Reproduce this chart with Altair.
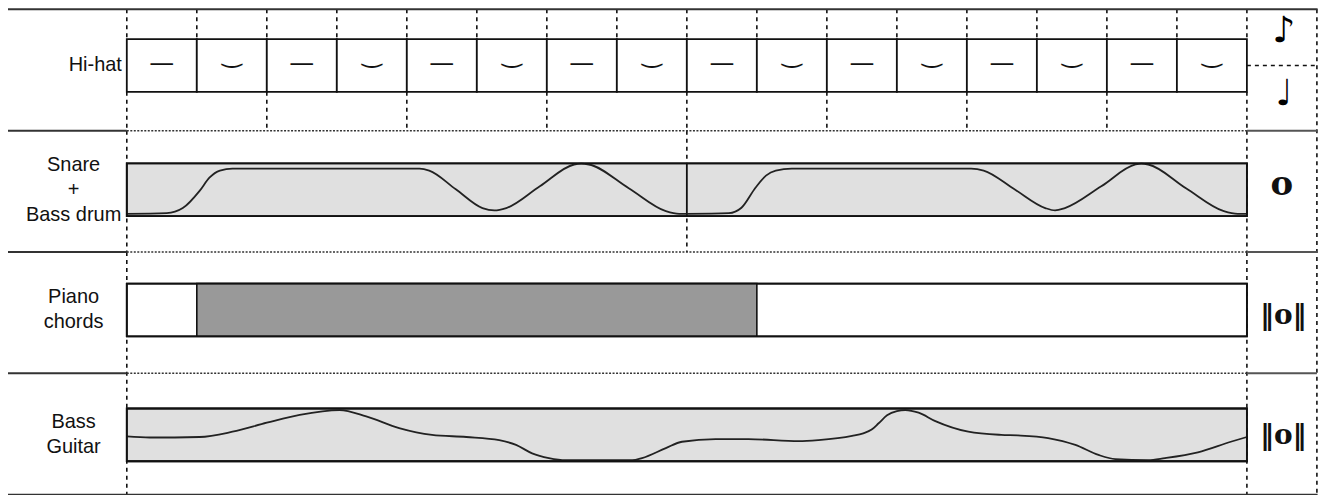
import altair as alt
import pandas as pd

# ---------------- data ----------------
row_names = ["Hi-hat", "Snare\n+\nBass drum", "Piano\nchords", "Bass\nGuitar"]
row_index = [0, 1, 2, 3]

# hi-hat: 16 eighth-note cells, alternating long / short strokes
hihat_cells = list(range(16))
hihat_marks = ["—", "‿", "—", "‿", "—", "‿", "—", "‿",
               "—", "‿", "—", "‿", "—", "‿", "—", "‿"]

# grid (eighth-note units)
eighth_lines = list(range(17))
quarter_lines = [0, 2, 4, 6, 8, 10, 12, 14, 16]
bar_lines = [0, 8, 16]
piece_lines = [0, 16]
piece_end = 16
legend_edge = 17

# snare + bass drum envelope: time (eighths) and level (0..1 inside the box), two bars
snare_t_bar1 = [0, 0.57, 0.80, 1.04, 1.18, 1.33, 1.51, 4.18, 4.32, 4.70, 5.08, 5.25, 5.42, 5.90, 6.39, 6.49,
                6.60, 7.17, 7.70, 7.89, 8.0]
snare_level_bar1 = [0.045, 0.058, 0.154, 0.48, 0.73, 0.865, 0.90, 0.90, 0.865, 0.51, 0.154, 0.11, 0.154, 0.567,
                    0.98, 0.995, 0.98, 0.53, 0.096, 0.045, 0.045]
snare_t_bar2 = [8.0, 8.60, 8.78, 8.98, 9.13, 9.27, 9.50, 12.06, 12.24, 12.68, 13.12, 13.26, 13.40, 13.92, 14.41,
                14.49, 14.59, 15.13, 15.67, 15.87, 16.0]
snare_level_bar2 = [0.045, 0.058, 0.16, 0.54, 0.77, 0.865, 0.90, 0.90, 0.865, 0.51, 0.154, 0.11, 0.154, 0.567,
                    0.98, 0.995, 0.98, 0.53, 0.096, 0.045, 0.045]

# piano chord block
piano_start, piano_end = 1, 9

# bass guitar contour
bass_t = [0, 0.33, 1.04, 1.51, 2.0, 2.47, 3.04, 3.42, 3.89, 4.36, 4.85, 5.32, 5.56, 5.79, 6.03, 6.27, 6.75,
          7.22, 7.36, 7.70, 7.93, 8.41, 8.88, 9.60, 9.88, 10.36, 10.52, 10.64, 10.74, 10.86, 11.0, 11.12,
          11.31, 11.55, 12.02, 12.49, 12.73, 13.16, 13.55, 13.88, 14.12, 14.59, 14.83, 15.30, 15.77, 16.0]
bass_level = [0.47, 0.45, 0.46, 0.56, 0.73, 0.88, 0.97, 0.85, 0.63, 0.50, 0.46, 0.40, 0.31, 0.15, 0.06, 0.02, 0.02,
              0.02, 0.06, 0.25, 0.37, 0.42, 0.42, 0.38, 0.40, 0.48, 0.53, 0.60, 0.72, 0.87, 0.95, 0.97,
              0.92, 0.76, 0.56, 0.50, 0.49, 0.44, 0.31, 0.12, 0.04, 0.02, 0.06, 0.17, 0.37, 0.46]

# note values in the right-hand column (row slot, glyph)
flag_notes = ["♪", "♩"]
flag_slots = [0.18, 0.70]
whole_notes = ["o"]
whole_slots = [1.47]
breve_notes = ["‖o‖", "‖o‖"]
breve_slots = [2.53, 3.52]

# ---------------- layout constants ----------------
BOX_TOP = [0.245, 0.27, 0.26, 0.29]   # box top inside each row (row units)
BOX_H = 0.435
TOP = "[%s][datum.row]" % ",".join(str(v) for v in BOX_TOP)
LINE_H = 25 / 121.5          # label line height in row units
XMIN, XMAX = -1.697, 17.03

XS = alt.Scale(domain=[XMIN, XMAX], nice=False, zero=False)
YS = alt.Scale(domain=[0, 4], reverse=True, nice=False, zero=False)


def X(f):
    return alt.X(f + ":Q", scale=XS, axis=None)


def Y(f):
    return alt.Y(f + ":Q", scale=YS, axis=None)


def num(v):
    return str(v)


Y0 = "datum.row + " + TOP
Y1 = "datum.row + " + TOP + " + " + num(BOX_H)
YM = "datum.row + " + TOP + " + " + num(BOX_H / 2)

# dashed grid segments
hh_top, hh_bot = BOX_TOP[0], BOX_TOP[0] + BOX_H
dash_rows = []
for b in eighth_lines:
    dash_rows.append({"x": b, "y0": 0, "y1": hh_top})
for b in quarter_lines:
    dash_rows.append({"x": b, "y0": hh_bot, "y1": 1})
for b in bar_lines:
    dash_rows.append({"x": b, "y0": 1, "y1": 2})
for b in piece_lines:
    dash_rows.append({"x": b, "y0": 2, "y1": 4})
dash_rows.append({"x": legend_edge, "y0": 0, "y1": 4})
dash_df = pd.DataFrame(dash_rows)

dashed = alt.Chart(dash_df).mark_rule(color="#111", strokeWidth=1.6, strokeDash=[4, 4]).encode(
    x=X("x"), y=Y("y0"), y2="y1")

# horizontal separators
sep_solid = pd.DataFrame({"x": [XMIN, XMIN], "x2": [XMAX - 0.02, XMAX - 0.02], "y": [0, 4]})
sep_left = pd.DataFrame({"x": [XMIN] * 3, "x2": [0] * 3, "y": [1, 2, 3]})
sep_dot = pd.DataFrame({"x": [0] * 3, "x2": [piece_end] * 3, "y": [1, 2, 3]})
sep_right = pd.DataFrame({"x": [piece_end] * 3, "x2": [legend_edge] * 3, "y": [1, 2, 3]})
legend_split = pd.DataFrame({"x": [piece_end], "x2": [legend_edge], "y": [hh_top + BOX_H / 2]})

l_solid = alt.Chart(sep_solid).mark_rule(color="#333", strokeWidth=2).encode(x=X("x"), x2="x2", y=Y("y"))
l_left = alt.Chart(sep_left).mark_rule(color="#333", strokeWidth=2).encode(x=X("x"), x2="x2", y=Y("y"))
l_dot = alt.Chart(sep_dot).mark_rule(color="#333", strokeWidth=1.6, strokeDash=[2, 1.5]).encode(
    x=X("x"), x2="x2", y=Y("y"))
l_right = alt.Chart(sep_right).mark_rule(color="#555", strokeWidth=2).encode(x=X("x"), x2="x2", y=Y("y"))
l_split = alt.Chart(legend_split).mark_rule(color="#111", strokeWidth=1.6, strokeDash=[4, 4]).encode(
    x=X("x"), x2="x2", y=Y("y"))

# boxes for rows 1..3
box_df = pd.DataFrame({"row": row_index[1:], "x": [0, 0, 0], "x2": [piece_end] * 3})
boxes = alt.Chart(box_df).transform_calculate(y0=Y0, y1=Y1).mark_rect(stroke="#111", strokeWidth=1.8).encode(
    x=X("x"), x2="x2", y=Y("y0"), y2="y1",
    fill=alt.Fill("row:N", scale=alt.Scale(domain=[1, 2, 3], range=["#e0e0e0", "#ffffff", "#e0e0e0"]),
                  legend=None))

# hi-hat cells
hh_df = pd.DataFrame({"cell": hihat_cells, "mark": hihat_marks, "row": 0})
hh_cells = alt.Chart(hh_df).transform_calculate(
    x2=alt.datum.cell + 1, y0=Y0, y1=Y1
).mark_rect(fill="white", stroke="#111", strokeWidth=1.8).encode(
    x=X("cell"), x2="x2", y=Y("y0"), y2="y1")
hh_base = alt.Chart(hh_df).transform_calculate(xc=alt.datum.cell + 0.5, yc=YM)
hh_long = hh_base.transform_filter(alt.datum.mark == "—").mark_text(
    font="DejaVu Sans", fontSize=25, color="#111", baseline="middle", dy=-2).encode(
    x=X("xc"), y=Y("yc"), text="mark:N")
hh_short = hh_base.transform_filter(alt.datum.mark != "—").mark_text(
    font="DejaVu Sans", fontSize=24, color="#111", baseline="middle", dy=-10).encode(
    x=X("xc"), y=Y("yc"), text="mark:N")

# snare bar line inside the box
bar_df = pd.DataFrame({"x": [bar_lines[1]], "row": [1]})
bar_rule = alt.Chart(bar_df).transform_calculate(y0=Y0, y1=Y1).mark_rule(
    color="#111", strokeWidth=1.8).encode(x=X("x"), y=Y("y0"), y2="y1")

# piano chord block
pn_df = pd.DataFrame({"x": [piano_start], "x2": [piano_end], "row": [2]})
piano = alt.Chart(pn_df).transform_calculate(y0=Y0, y1=Y1).mark_rect(
    fill="#999999", stroke="#111", strokeWidth=1.6).encode(
    x=X("x"), x2="x2", y=Y("y0"), y2="y1")

# curves
sn1 = pd.DataFrame({"t": snare_t_bar1, "level": snare_level_bar1, "seg": "snare1", "row": 1})
sn2 = pd.DataFrame({"t": snare_t_bar2, "level": snare_level_bar2, "seg": "snare2", "row": 1})
bs = pd.DataFrame({"t": bass_t, "level": bass_level, "seg": "bass", "row": 3})
curve_df = pd.concat([sn1, sn2, bs], ignore_index=True)
curves = alt.Chart(curve_df).transform_calculate(
    yv=Y1 + " - datum.level * " + num(BOX_H)
).mark_line(interpolate="monotone", color="#222", strokeWidth=1.8).encode(
    x=X("t"), y=Y("yv"), detail="seg:N", order="t:Q")

# box outlines on top
outlines = alt.Chart(box_df).transform_calculate(y0=Y0, y1=Y1).mark_rect(
    fill="transparent", stroke="#111", strokeWidth=1.8).encode(
    x=X("x"), x2="x2", y=Y("y0"), y2="y1")

# row labels
lab_df = pd.DataFrame({"row": row_index, "label": row_names})
hh_label = alt.Chart(lab_df.iloc[:1]).transform_calculate(
    xl=num(-0.07), yl=YM
).mark_text(font="Liberation Sans", fontSize=20, color="#111", align="right", baseline="middle").encode(
    x=X("xl"), y=Y("yl"), text="label:N")
labels = alt.Chart(lab_df.iloc[1:]).transform_calculate(
    xl=num(-0.76),
    yl=YM + " - (length(split(datum.label, '\\n')) - 1) * " + num(LINE_H / 2)
).mark_text(font="Liberation Sans", fontSize=20, color="#111", align="center", baseline="middle",
            lineBreak="\n", lineHeight=25).encode(
    x=X("xl"), y=Y("yl"), text="label:N")

# note-value glyphs
fl_df = pd.DataFrame({"glyph": flag_notes, "slot": flag_slots})
flags = alt.Chart(fl_df).transform_calculate(
    xg=num(piece_end + 0.53)
).mark_text(font="DejaVu Sans", fontSize=36, fontWeight="bold", color="#000", baseline="middle").encode(
    x=X("xg"), y=Y("slot"), text="glyph:N")
wh_df = pd.DataFrame({"glyph": whole_notes, "slot": whole_slots})
wholes = alt.Chart(wh_df).transform_calculate(
    xg=num(piece_end + 0.5)
).mark_text(font="DejaVu Serif", fontSize=34, fontWeight="bold", color="#111", baseline="middle", dy=-3).encode(
    x=X("xg"), y=Y("slot"), text="glyph:N")
br_df = pd.DataFrame({"glyph": breve_notes, "slot": breve_slots})
breves = alt.Chart(br_df).transform_calculate(
    xg=num(piece_end + 0.52)
).mark_text(font="DejaVu Serif", fontSize=28, fontWeight="bold", color="#111", baseline="middle").encode(
    x=X("xg"), y=Y("slot"), text="glyph:N")

chart = alt.layer(
    dashed, l_solid, l_left, l_dot, l_right, l_split,
    boxes, hh_cells, piano, bar_rule, curves, outlines,
    hh_long, hh_short, hh_label, labels, flags, wholes, breves
).properties(
    width=1313, height=486,
    autosize=alt.AutoSizeParams(type="none"),
    padding={"left": 0, "top": 1, "right": 0, "bottom": 0},
).configure_view(stroke=None)

chart.save("out.html", embed_options={"renderer": "svg", "actions": False})
